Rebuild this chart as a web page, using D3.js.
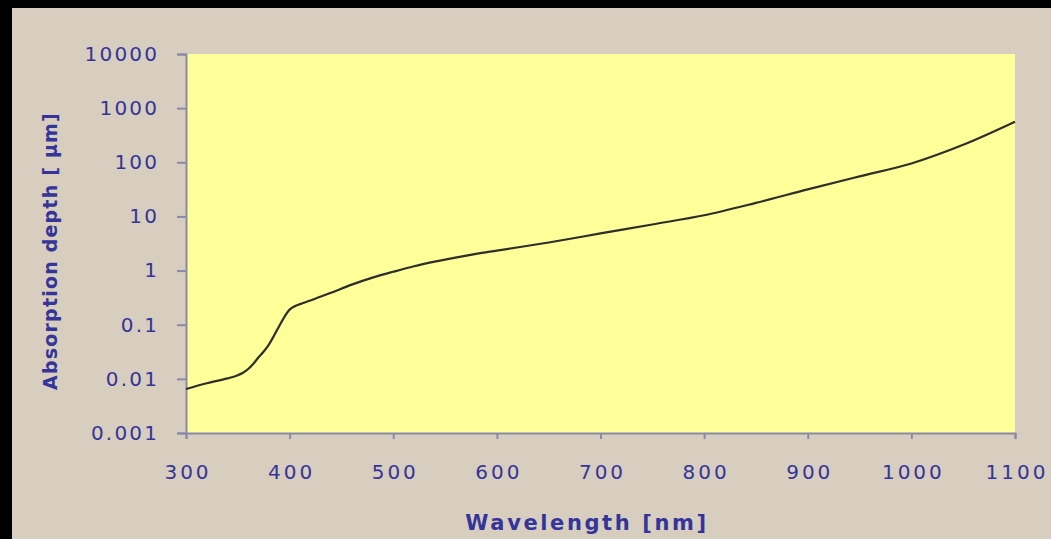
<!DOCTYPE html>
<html>
<head>
<meta charset="utf-8">
<script src="https://cdn.jsdelivr.net/npm/d3@7"></script>
<style>
  html, body { margin: 0; padding: 0; background: #000; }
  svg { display: block; }
</style>
</head>
<body>
<svg id="chart" width="1051" height="539"></svg>
<script>
// Data
const wavelengths = [300, 320, 340, 350, 355, 360, 365, 370, 375, 380, 385, 390, 395, 400, 405, 410, 420, 440, 460, 480, 500, 520, 540, 560, 580, 600, 650, 700, 750, 800, 850, 900, 950, 1000, 1050, 1100];
const depths = [0.0065, 0.0083, 0.0102, 0.0117, 0.013, 0.0152, 0.019, 0.025, 0.032, 0.043, 0.063, 0.095, 0.14, 0.19, 0.22, 0.24, 0.28, 0.39, 0.55, 0.74, 0.95, 1.2, 1.46, 1.74, 2.04, 2.34, 3.3, 4.85, 7.1, 10.5, 17.8, 31.6, 55, 95, 210, 560];
const xTicks = [300, 400, 500, 600, 700, 800, 900, 1000, 1100];
const yTicks = [0.001, 0.01, 0.1, 1, 10, 100, 1000, 10000];
const yTickLabels = ["0.001", "0.01", "0.1", "1", "10", "100", "1000", "10000"];
const xTitle = "Wavelength [nm]";
const yTitle = "Absorption depth [ µm]";

const W = 1051, H = 539;
const svg = d3.select("#chart");
const plot = { left: 186, right: 1015, top: 54, bottom: 433 };
const textColor = "#34349a";
const axisColor = "#8a8aa8";
const font = "'DejaVu Sans', Verdana, sans-serif";

// background frame
svg.append("rect").attr("x", 0).attr("y", 0).attr("width", W).attr("height", H).attr("fill", "#000");
svg.append("rect").attr("x", 12).attr("y", 8).attr("width", W - 12).attr("height", H - 8).attr("fill", "#d7cebf");

const x = d3.scaleLinear().domain([300, 1100]).range([plot.left, plot.right]);
const y = d3.scaleLog().domain([0.001, 10000]).range([plot.bottom, plot.top]);

// plot area
svg.append("rect")
  .attr("x", plot.left).attr("y", plot.top)
  .attr("width", plot.right - plot.left).attr("height", plot.bottom - plot.top)
  .attr("fill", "#ffff99");

// axes
const xAxis = d3.axisBottom(x).tickValues(xTicks).tickSize(6).tickPadding(26).tickFormat(d3.format("d"));
const gx = svg.append("g").attr("transform", `translate(0,${plot.bottom})`).call(xAxis);
const yAxis = d3.axisLeft(y).tickValues(yTicks).tickSize(9).tickPadding(20)
  .tickFormat((d, i) => yTickLabels[i]);
const gy = svg.append("g").attr("transform", `translate(${plot.left},0)`).call(yAxis);

[gx, gy].forEach(g => {
  g.select(".domain").attr("stroke", axisColor).attr("stroke-width", 2);
  g.selectAll(".tick line").attr("stroke", axisColor).attr("stroke-width", 2);
  g.selectAll(".tick text")
    .attr("fill", textColor)
    .style("font-family", font)
    .style("font-size", "20px");
});
gx.selectAll(".tick text").style("letter-spacing", "3px").attr("dx", "1.5px");
gy.selectAll(".tick text").style("letter-spacing", "2.2px").attr("dx", "2.2px");

// line
const line = d3.line()
  .x((d, i) => x(wavelengths[i]))
  .y((d, i) => y(depths[i]))
  .curve(d3.curveMonotoneX);
svg.append("path")
  .datum(depths)
  .attr("d", line)
  .attr("fill", "none")
  .attr("stroke", "#2e2e2a")
  .attr("stroke-width", 2.2);

// titles
svg.append("text")
  .attr("x", 587).attr("y", 530)
  .attr("text-anchor", "middle")
  .attr("fill", textColor)
  .style("font-family", font)
  .style("font-weight", "bold")
  .style("font-size", "21px")
  .style("letter-spacing", "2.6px")
  .text(xTitle);

svg.append("text")
  .attr("transform", "translate(57,251) rotate(-90)")
  .attr("text-anchor", "middle")
  .attr("fill", textColor)
  .style("font-family", font)
  .style("font-weight", "bold")
  .style("font-size", "19px")
  .style("letter-spacing", "1.2px")
  .text(yTitle);
</script>
</body>
</html>
